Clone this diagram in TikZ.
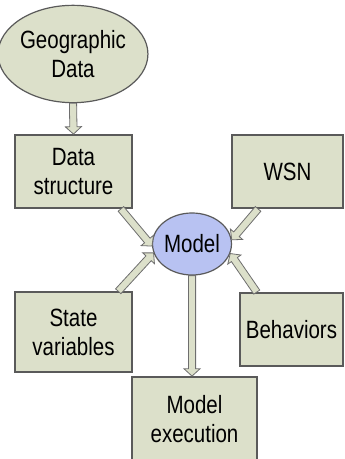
\documentclass[tikz,border=0pt]{standalone}
\usepackage{fontspec}
\setmainfont{Liberation Sans}[FakeStretch=0.82]
\usetikzlibrary{shapes.geometric, calc}
\definecolor{boxfill}{HTML}{DCE0CA}
\definecolor{modelfill}{HTML}{B8C2F2}
\definecolor{boxedge}{HTML}{5A5A5A}
\definecolor{arrowedge}{HTML}{6E6E6E}
\tikzset{>=stealth}
\tikzset{
    box/.style = {draw=boxedge, line width=1.1pt, fill=boxfill, align=center, inner sep=0pt},
    oval/.style = {ellipse, draw=boxedge, line width=0.9pt, align=center, inner sep=0pt},
    arrowbody/.style = {draw=arrowedge, line width=0.6pt, fill=boxfill, line join=miter}
}
% fat outlined arrow from #1 to #2
\newcommand{\blockarrow}[2]{%
    \path (#1) coordinate (ba-s) (#2) coordinate (ba-e);
    \path ($(ba-e)!5.5pt!(ba-s)$) coordinate (ba-h);
    \draw[arrowbody] ($(ba-s)!2.7pt!90:(ba-e)$) -- ($(ba-h)!2.7pt!-90:(ba-s)$)
        -- ($(ba-h)!6pt!-90:(ba-s)$) -- (ba-e) -- ($(ba-h)!6pt!90:(ba-s)$)
        -- ($(ba-h)!2.7pt!90:(ba-s)$) -- ($(ba-s)!2.7pt!-90:(ba-e)$) -- cycle;
}

\begin{document}
\begin{tikzpicture}[x=0.75pt, y=-0.75pt, font=\fontsize{18.75}{21.75}\selectfont]
    \useasboundingbox (0,0) rectangle (344,459);
    \node[oval, fill=boxfill, minimum width=100pt, minimum height=73pt] (geo) at (73,54) {Geographic\\Data};
    \node[box, minimum width=88pt, minimum height=55pt] (ds) at (73.5,171.5) {Data\\structure};
    \node[box, minimum width=83pt, minimum height=55pt] (wsn) at (287.5,171.5) {WSN};
    \node[oval, fill=modelfill, minimum width=58.5pt, minimum height=46.5pt] (model) at (192,244) {Model};
    \node[box, minimum width=88pt, minimum height=60pt] (sv) at (73.5,332) {State\\variables};
    \node[box, minimum width=77pt, minimum height=55pt] (beh) at (291.5,329.5) {Behaviors};
    \node[box, minimum width=94pt, minimum height=64pt] (exec) at (194.5,419.5) {Model\\execution};

    \blockarrow{geo.south}{ds.north}
    \blockarrow{[xshift=-9pt]ds.south east}{model.183}
    \blockarrow{[xshift=-11pt]sv.north east}{model.193}
    \blockarrow{[xshift=20pt]wsn.south west}{model.6}
    \blockarrow{[xshift=13pt]beh.north west}{model.346}
    \blockarrow{model.south}{model.south |- exec.north}
\end{tikzpicture}
\end{document}
